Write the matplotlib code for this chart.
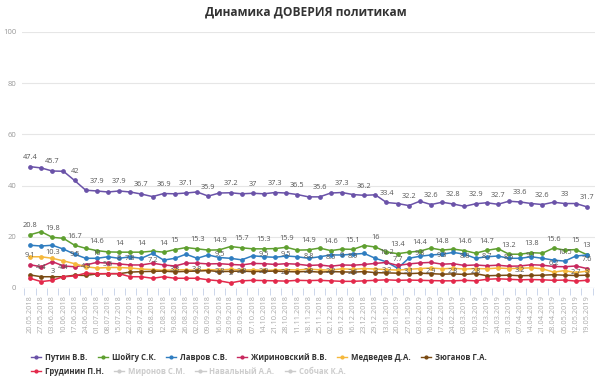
import matplotlib
matplotlib.use("Agg")
import matplotlib.pyplot as plt
from matplotlib.lines import Line2D

plt.rcParams['font.family'] = ['Open Sans', 'DejaVu Sans']

dates = ["20.05.2018", "27.05.2018", "03.06.2018", "10.06.2018", "17.06.2018", "24.06.2018",
         "01.07.2018", "08.07.2018", "15.07.2018", "22.07.2018", "29.07.2018", "05.08.2018",
         "12.08.2018", "19.08.2018", "26.08.2018", "02.09.2018", "09.09.2018", "16.09.2018",
         "23.09.2018", "30.09.2018", "07.10.2018", "14.10.2018", "21.10.2018", "28.10.2018",
         "11.11.2018", "18.11.2018", "25.11.2018", "02.12.2018", "09.12.2018", "16.12.2018",
         "23.12.2018", "29.12.2018", "13.01.2019", "20.01.2019", "27.01.2019", "03.02.2019",
         "10.02.2019", "17.02.2019", "24.02.2019", "03.03.2019", "10.03.2019", "17.03.2019",
         "24.03.2019", "31.03.2019", "07.04.2019", "14.04.2019", "21.04.2019", "28.04.2019",
         "05.05.2019", "12.05.2019", "19.05.2019"]

putin = [47.4, 46.9, 45.7, 45.6, 42.0, 38.2, 37.9, 37.5, 37.9, 37.5, 36.7, 35.7, 36.9, 36.8, 37.1,
         37.5, 35.9, 37.1, 37.2, 36.8, 37.0, 36.8, 37.3, 37.1, 36.5, 35.6, 35.6, 37.1, 37.3, 36.5,
         36.2, 36.4, 33.4, 33.0, 32.2, 33.9, 32.6, 33.5, 32.8, 31.9, 32.9, 33.3, 32.7, 33.9, 33.6,
         33.0, 32.6, 33.5, 33.0, 33.0, 31.7]
shoigu = [20.8, 22.0, 19.8, 19.4, 16.7, 15.5, 14.6, 14.1, 14.0, 14.0, 14.0, 14.4, 14.0, 15.0, 15.8,
          15.3, 14.8, 14.9, 16.2, 15.7, 15.3, 15.3, 15.4, 15.9, 14.8, 14.9, 15.6, 14.6, 15.2, 15.1,
          16.6, 16.0, 14.1, 13.4, 14.0, 14.4, 15.6, 14.8, 15.2, 14.6, 13.6, 14.7, 15.4, 13.2, 13.2,
          13.8, 13.6, 15.6, 14.8, 15.0, 13.0]
lavrov = [16.7, 16.4, 16.7, 15.2, 13.2, 11.6, 11.6, 12.2, 11.6, 12.2, 11.6, 13.5, 10.9, 11.6, 13.2,
          11.6, 12.9, 11.9, 11.6, 11.0, 12.6, 12.2, 12.0, 12.5, 12.2, 11.6, 12.2, 12.9, 12.9, 13.2,
          13.5, 11.6, 10.2, 7.7, 11.6, 12.4, 12.9, 13.2, 13.9, 13.2, 11.6, 12.2, 12.5, 11.6, 11.6,
          12.2, 11.6, 10.9, 10.5, 12.5, 12.9]
zhirinovsky = [9.1, 8.3, 10.3, 8.6, 8.3, 9.0, 10.0, 9.7, 9.4, 9.0, 9.0, 9.7, 9.0, 8.6, 9.7,
               9.7, 9.4, 9.5, 9.2, 9.0, 9.6, 9.5, 9.2, 9.5, 9.3, 8.8, 9.0, 8.5, 9.0, 8.9,
               9.2, 9.6, 10.0, 8.8, 9.4, 9.8, 10.0, 9.3, 9.5, 8.8, 9.0, 8.7, 8.9, 8.5, 8.6,
               9.1, 8.9, 8.4, 8.3, 8.6, 7.6]
medvedev = [12.2, 12.2, 11.6, 10.6, 9.5, 8.3, 7.8, 8.0, 8.0, 7.8, 7.4, 7.2, 6.9, 7.1, 7.1,
            6.9, 7.2, 7.0, 7.3, 7.0, 7.1, 6.9, 7.0, 7.2, 7.0, 7.4, 7.1, 7.0, 7.5, 7.3,
            7.6, 7.4, 7.2, 7.0, 7.3, 7.6, 7.8, 7.5, 7.7, 7.4, 7.6, 7.5, 7.8, 7.6, 7.7,
            7.9, 7.5, 6.2, 6.8, 6.0, 6.6]
zyuganov = [5.1, 4.4, 4.4, 4.4, 5.0, 4.9, 5.5, 5.6, 5.6, 6.2, 6.4, 6.5, 6.6, 6.3, 6.5,
            6.6, 6.8, 6.4, 6.5, 6.6, 6.4, 6.5, 6.6, 6.4, 6.3, 6.5, 6.2, 6.4, 6.3, 6.2,
            6.4, 6.0, 5.9, 5.8, 5.6, 5.8, 5.6, 5.4, 5.5, 5.3, 5.6, 4.8, 4.9, 5.0, 4.8,
            4.9, 5.0, 5.2, 5.0, 4.9, 5.0]
grudinin = [3.8, 2.5, 3.0, 4.4, 4.7, 5.8, 5.6, 5.6, 5.6, 4.4, 4.4, 3.8, 4.4, 3.8, 3.8,
            3.8, 3.2, 2.8, 2.0, 2.8, 3.0, 2.9, 2.8, 2.7, 3.0, 2.9, 3.0, 2.8, 2.6, 2.6,
            2.8, 3.0, 3.2, 3.0, 3.1, 3.0, 2.9, 2.8, 2.8, 3.0, 2.8, 3.4, 3.6, 3.4, 3.2,
            3.3, 3.2, 3.0, 3.1, 2.7, 3.0]

names = ["Путин В.В.", "Шойгу С.К.", "Лавров С.В.", "Жириновский В.В.", "Медведев Д.А.",
         "Зюганов Г.А.", "Грудинин П.Н."]
hidden_names = ["Миронов С.М.", "Навальный А.А.", "Собчак К.А."]

# which points carry a value label
lbl_putin = list(range(0, 51, 2))
lbl_shoigu = [0, 2, 4, 6, 8, 10, 12] + list(range(13, 50, 2)) + [50]
lbl_lavrov = [32, 33, 48]
lbl_zhir = [0, 2, 6, 17, 21, 23, 25, 27, 28, 29, 35, 37, 39, 41, 43, 45, 50]
lbl_medv = [4, 8, 9, 11, 47]
lbl_zyug = [1, 3, 5, 7]
lbl_grud = [2, 13, 15, 17, 18, 19, 21, 23, 25, 27, 29, 31, 32, 34, 36, 38, 40, 44, 49, 50]

series = [putin, shoigu, lavrov, zhirinovsky, medvedev, zyuganov, grudinin]
labels_idx = [lbl_putin, lbl_shoigu, lbl_lavrov, lbl_zhir, lbl_medv, lbl_zyug, lbl_grud]
colors = ["#6a52a8", "#5e9f2f", "#2f7dc0", "#c8285e", "#f5b83c", "#7a4a12", "#e3294b"]

fig = plt.figure(figsize=(6.0, 3.83), dpi=100)
ax = fig.add_axes([22 / 600, 1 - 288 / 383, 573 / 600, 256 / 383])

x = list(range(len(dates)))
for vals, col, lidx in zip(series, colors, labels_idx):
    ax.plot(x, vals, color=col, lw=1.1, marker='o', ms=2.4, zorder=3)
    for i in lidx:
        v = vals[i]
        t = ('%g' % v)
        ax.annotate(t, (i, v), xytext=(0, 4), textcoords='offset points',
                    ha='center', va='bottom', fontsize=5.3, color='#555555', zorder=4)

ax.set_xlim(-0.72, 50.72)
ax.set_ylim(0, 100)
ax.set_yticks(range(0, 101, 20))
ax.grid(axis='y', color='#e6e6e6', lw=0.8)
ax.set_axisbelow(True)
for s in ax.spines.values():
    s.set_visible(False)
ax.tick_params(axis='y', length=0, labelsize=5.5, labelcolor='#999999', pad=4)
ax.set_xticks(x)
ax.set_xticklabels(dates, rotation=90, fontsize=5.3, color='#aaaaaa')
ax.tick_params(axis='x', which='major', length=0, pad=5)
ax.set_xticks([i + 0.5 for i in range(-1, 51)], minor=True)
ax.tick_params(axis='x', which='minor', length=5, color='#ccd6eb', width=0.7)
ax.axhline(0, color='#ccd6eb', lw=0.8, zorder=2)

fig.text(0.51, 0.985, "Динамика ДОВЕРИЯ политикам", ha='center', va='top',
         fontsize=8.6, fontweight='bold', color='#333333')

handles = []
for n, c in zip(names, colors):
    handles.append(Line2D([0], [0], color=c, lw=1, marker='o', ms=2, label=n))
for n in hidden_names:
    handles.append(Line2D([0], [0], color='#cccccc', lw=1, marker='o', ms=2, label=n))

row1 = handles[:6]
row2 = handles[6:]
common = dict(frameon=False, fontsize=5.6, handlelength=1.3, handletextpad=0.5,
              columnspacing=1.3, borderpad=0.0, borderaxespad=0.0)
leg1 = fig.legend(handles=row1, labels=[h.get_label() for h in row1], ncol=6,
                  loc='center left', bbox_to_anchor=(0.052, 1 - 357 / 383), **common)
leg2 = fig.legend(handles=row2, labels=[h.get_label() for h in row2], ncol=4,
                  loc='center left', bbox_to_anchor=(0.052, 1 - 371 / 383), **common)
for leg in (leg1, leg2):
    for t, h in zip(leg.get_texts(), leg.legend_handles):
        t.set_fontweight('bold')
        t.set_color('#cccccc' if h.get_color() == '#cccccc' else '#333333')

fig.savefig("out.png", dpi=100)
